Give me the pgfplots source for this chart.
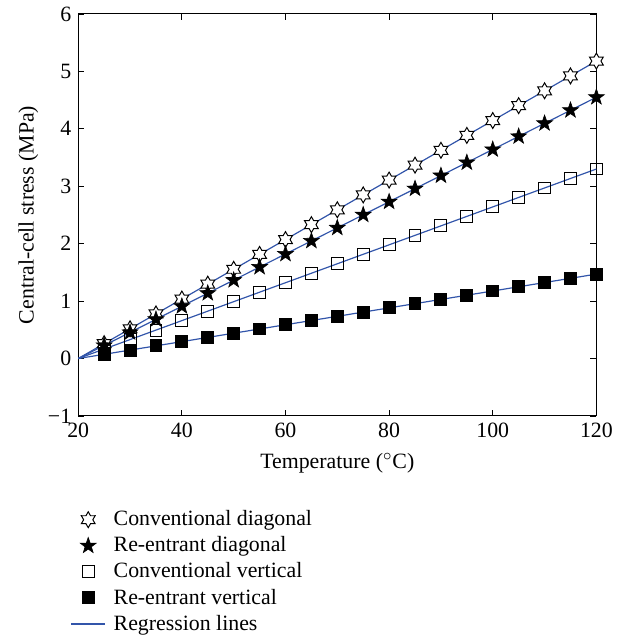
\documentclass[border=0pt]{standalone}
\usepackage{fontspec}
\setmainfont{Liberation Serif}
\usepackage{pgfplots}
\pgfplotsset{compat=1.18}
\definecolor{regblue}{RGB}{50,85,170}
\pgfdeclareplotmark{hexstar}{%
  \pgfpathmoveto{\pgfpointpolar{90}{\pgfplotmarksize}}%
  \pgfpathlineto{\pgfpointpolar{120}{0.577*\pgfplotmarksize}}%
  \pgfpathlineto{\pgfpointpolar{150}{\pgfplotmarksize}}%
  \pgfpathlineto{\pgfpointpolar{180}{0.577*\pgfplotmarksize}}%
  \pgfpathlineto{\pgfpointpolar{210}{\pgfplotmarksize}}%
  \pgfpathlineto{\pgfpointpolar{240}{0.577*\pgfplotmarksize}}%
  \pgfpathlineto{\pgfpointpolar{270}{\pgfplotmarksize}}%
  \pgfpathlineto{\pgfpointpolar{300}{0.577*\pgfplotmarksize}}%
  \pgfpathlineto{\pgfpointpolar{330}{\pgfplotmarksize}}%
  \pgfpathlineto{\pgfpointpolar{0}{0.577*\pgfplotmarksize}}%
  \pgfpathlineto{\pgfpointpolar{30}{\pgfplotmarksize}}%
  \pgfpathlineto{\pgfpointpolar{60}{0.577*\pgfplotmarksize}}%
  \pgfpathclose
  \pgfusepathqfillstroke
}
\pgfdeclareplotmark{fivestar}{%
  \pgfpathmoveto{\pgfpointpolar{90}{\pgfplotmarksize}}%
  \pgfpathlineto{\pgfpointpolar{126}{0.40*\pgfplotmarksize}}%
  \pgfpathlineto{\pgfpointpolar{162}{\pgfplotmarksize}}%
  \pgfpathlineto{\pgfpointpolar{198}{0.40*\pgfplotmarksize}}%
  \pgfpathlineto{\pgfpointpolar{234}{\pgfplotmarksize}}%
  \pgfpathlineto{\pgfpointpolar{270}{0.40*\pgfplotmarksize}}%
  \pgfpathlineto{\pgfpointpolar{306}{\pgfplotmarksize}}%
  \pgfpathlineto{\pgfpointpolar{342}{0.40*\pgfplotmarksize}}%
  \pgfpathlineto{\pgfpointpolar{18}{\pgfplotmarksize}}%
  \pgfpathlineto{\pgfpointpolar{54}{0.40*\pgfplotmarksize}}%
  \pgfpathclose
  \pgfusepathqfillstroke
}
\begin{document}
\begin{tikzpicture}[font=\fontsize{11}{13}\selectfont]
\begin{axis}[
  scale only axis, width=261pt, height=202.5pt,
  xmin=20, xmax=120, ymin=-1, ymax=6,
  xtick={20,40,60,80,100,120},
  xticklabels={20,40,60,80,100,120},
  ytick={-1,0,1,2,3,4,5,6},
  yticklabels={−1,0,1,2,3,4,5,6},
  tick align=inside,
  major tick length=3pt,
  tick style={black, line width=0.4pt},
  axis line style={line width=0.5pt},
  xlabel={Temperature ($^\circ$C)},
  ylabel={Central-cell stress (MPa)},
  ylabel style={yshift=-2pt},
  xlabel style={yshift=-1pt},
  legend style={draw=none, fill=none, at={(0,0)}, anchor=north west,
    xshift=-7pt, yshift=-43.5pt, legend cell align=left,
    row sep=0pt, column sep=2pt},
  legend cell align=left,
]
\addplot[only marks, mark=hexstar, mark size=4pt, mark options={fill=white, draw=black, line width=0.5pt}] coordinates {
(25,0.259) (30,0.518) (35,0.777) (40,1.036) (45,1.295) (50,1.554) (55,1.813) (60,2.072) (65,2.331) (70,2.59) (75,2.849) (80,3.108) (85,3.367) (90,3.626) (95,3.885) (100,4.144) (105,4.403) (110,4.662) (115,4.921) (120,5.18)};
\addlegendentry{Conventional diagonal}
\addplot[only marks, mark=fivestar, mark size=4.2pt, mark options={fill=black, draw=black, line width=0.3pt}] coordinates {
(25,0.2275) (30,0.455) (35,0.6825) (40,0.91) (45,1.1375) (50,1.365) (55,1.5925) (60,1.82) (65,2.0475) (70,2.275) (75,2.5025) (80,2.73) (85,2.9575) (90,3.185) (95,3.4125) (100,3.64) (105,3.8675) (110,4.095) (115,4.3225) (120,4.55)};
\addlegendentry{Re-entrant diagonal}
\addplot[only marks, mark=square, mark size=3pt, mark options={fill=white, draw=black, line width=0.5pt}] coordinates {
(25,0.165) (30,0.33) (35,0.495) (40,0.66) (45,0.825) (50,0.99) (55,1.155) (60,1.32) (65,1.485) (70,1.65) (75,1.815) (80,1.98) (85,2.145) (90,2.31) (95,2.475) (100,2.64) (105,2.805) (110,2.97) (115,3.135) (120,3.30)};
\addlegendentry{Conventional vertical}
\addplot[only marks, mark=square*, mark size=3pt, mark options={fill=black, draw=black, line width=0.5pt}] coordinates {
(25,0.0735) (30,0.147) (35,0.2205) (40,0.294) (45,0.3675) (50,0.441) (55,0.5145) (60,0.588) (65,0.6615) (70,0.735) (75,0.8085) (80,0.882) (85,0.9555) (90,1.029) (95,1.1025) (100,1.176) (105,1.2495) (110,1.323) (115,1.3965) (120,1.47)};
\addlegendentry{Re-entrant vertical}
\addplot[regblue, line width=0.6pt, forget plot] coordinates {(20,0) (120,5.18)};
\addplot[regblue, line width=0.6pt, forget plot] coordinates {(20,0) (120,4.55)};
\addplot[regblue, line width=0.6pt, forget plot] coordinates {(20,0) (120,3.30)};
\addplot[regblue, line width=0.6pt, forget plot] coordinates {(20,0) (120,1.47)};
\addlegendimage{regblue, line width=0.6pt}
\addlegendentry{Regression lines}
\end{axis}
\path ([xshift=-6pt]current bounding box.west) ([xshift=1.5pt]current bounding box.east);
\end{tikzpicture}
\end{document}
